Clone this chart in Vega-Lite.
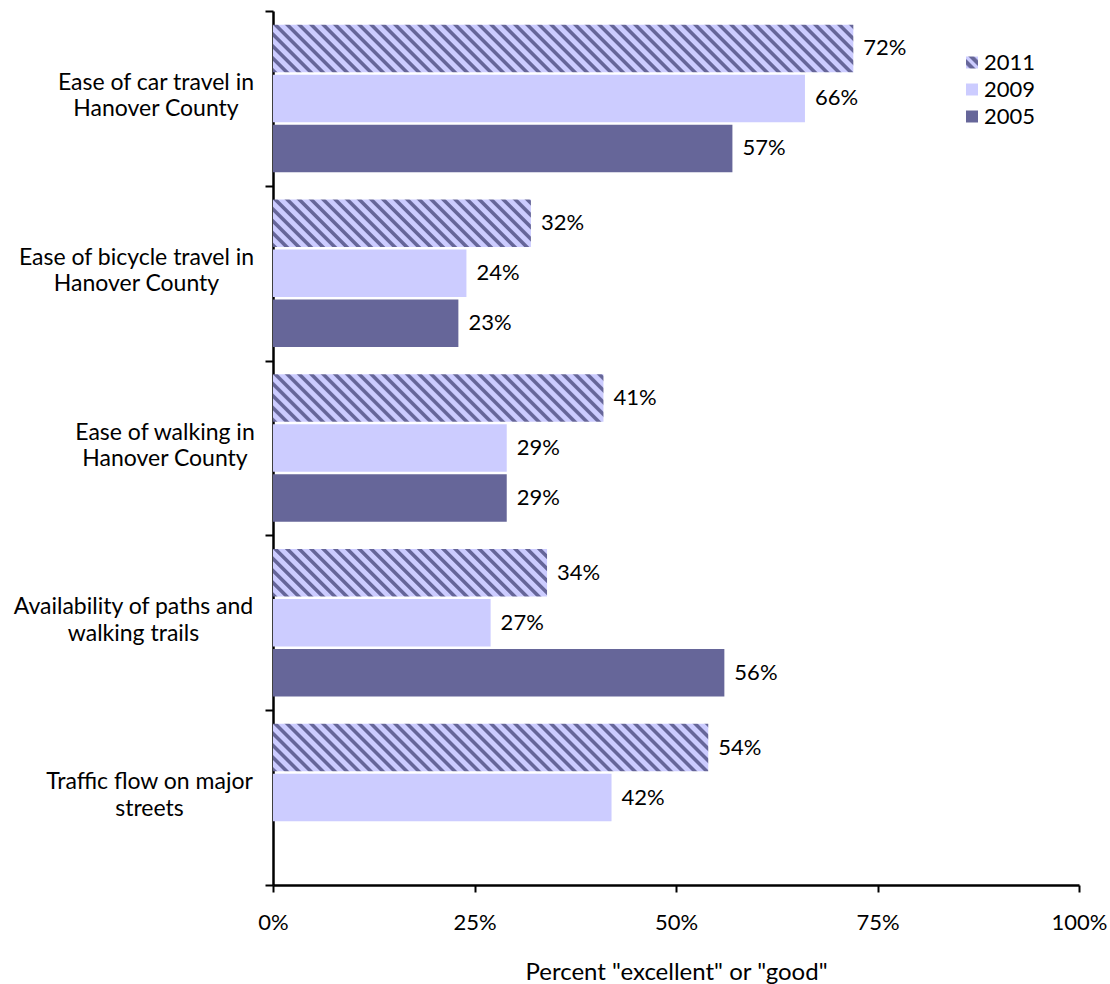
{
  "$schema": "https://vega.github.io/schema/vega-lite/v6.json",
  "autosize": {"type": "none"},
  "padding": {"left": 273, "top": 11, "right": 31, "bottom": 99},
  "width": 806,
  "height": 874,
  "background": "white",
  "config": {
    "view": {"stroke": null},
    "font": "Lato",
    "axis": {
      "grid": false,
      "domainColor": "black",
      "tickColor": "black",
      "labelColor": "black",
      "titleColor": "black",
      "labelFont": "Lato",
      "titleFont": "Lato"
    }
  },
  "params": [
    {
      "name": "hatchStops",
      "value": [
        {"offset":0,"color":"#669"},{"offset":0.0054,"color":"#669"},{"offset":0.0075,"color":"#ccf"},{"offset":0.0157,"color":"#ccf"},
        {"offset":0.0179,"color":"#669"},{"offset":0.0232,"color":"#669"},{"offset":0.0254,"color":"#ccf"},{"offset":0.0336,"color":"#ccf"},
        {"offset":0.0357,"color":"#669"},{"offset":0.0411,"color":"#669"},{"offset":0.0432,"color":"#ccf"},{"offset":0.0514,"color":"#ccf"},
        {"offset":0.0536,"color":"#669"},{"offset":0.0589,"color":"#669"},{"offset":0.0611,"color":"#ccf"},{"offset":0.0693,"color":"#ccf"},
        {"offset":0.0714,"color":"#669"},{"offset":0.0768,"color":"#669"},{"offset":0.0789,"color":"#ccf"},{"offset":0.0871,"color":"#ccf"},
        {"offset":0.0893,"color":"#669"},{"offset":0.0946,"color":"#669"},{"offset":0.0968,"color":"#ccf"},{"offset":0.1050,"color":"#ccf"},
        {"offset":0.1071,"color":"#669"},{"offset":0.1125,"color":"#669"},{"offset":0.1146,"color":"#ccf"},{"offset":0.1229,"color":"#ccf"},
        {"offset":0.1250,"color":"#669"},{"offset":0.1304,"color":"#669"},{"offset":0.1325,"color":"#ccf"},{"offset":0.1407,"color":"#ccf"},
        {"offset":0.1429,"color":"#669"},{"offset":0.1482,"color":"#669"},{"offset":0.1504,"color":"#ccf"},{"offset":0.1586,"color":"#ccf"},
        {"offset":0.1607,"color":"#669"},{"offset":0.1661,"color":"#669"},{"offset":0.1682,"color":"#ccf"},{"offset":0.1764,"color":"#ccf"},
        {"offset":0.1786,"color":"#669"},{"offset":0.1839,"color":"#669"},{"offset":0.1861,"color":"#ccf"},{"offset":0.1943,"color":"#ccf"},
        {"offset":0.1964,"color":"#669"},{"offset":0.2018,"color":"#669"},{"offset":0.2039,"color":"#ccf"},{"offset":0.2121,"color":"#ccf"},
        {"offset":0.2143,"color":"#669"},{"offset":0.2196,"color":"#669"},{"offset":0.2218,"color":"#ccf"},{"offset":0.2300,"color":"#ccf"},
        {"offset":0.2321,"color":"#669"},{"offset":0.2375,"color":"#669"},{"offset":0.2396,"color":"#ccf"},{"offset":0.2479,"color":"#ccf"},
        {"offset":0.2500,"color":"#669"},{"offset":0.2554,"color":"#669"},{"offset":0.2575,"color":"#ccf"},{"offset":0.2657,"color":"#ccf"},
        {"offset":0.2679,"color":"#669"},{"offset":0.2732,"color":"#669"},{"offset":0.2754,"color":"#ccf"},{"offset":0.2836,"color":"#ccf"},
        {"offset":0.2857,"color":"#669"},{"offset":0.2911,"color":"#669"},{"offset":0.2932,"color":"#ccf"},{"offset":0.3014,"color":"#ccf"},
        {"offset":0.3036,"color":"#669"},{"offset":0.3089,"color":"#669"},{"offset":0.3111,"color":"#ccf"},{"offset":0.3193,"color":"#ccf"},
        {"offset":0.3214,"color":"#669"},{"offset":0.3268,"color":"#669"},{"offset":0.3289,"color":"#ccf"},{"offset":0.3371,"color":"#ccf"},
        {"offset":0.3393,"color":"#669"},{"offset":0.3446,"color":"#669"},{"offset":0.3468,"color":"#ccf"},{"offset":0.3550,"color":"#ccf"},
        {"offset":0.3571,"color":"#669"},{"offset":0.3625,"color":"#669"},{"offset":0.3646,"color":"#ccf"},{"offset":0.3729,"color":"#ccf"},
        {"offset":0.3750,"color":"#669"},{"offset":0.3804,"color":"#669"},{"offset":0.3825,"color":"#ccf"},{"offset":0.3907,"color":"#ccf"},
        {"offset":0.3929,"color":"#669"},{"offset":0.3982,"color":"#669"},{"offset":0.4004,"color":"#ccf"},{"offset":0.4086,"color":"#ccf"},
        {"offset":0.4107,"color":"#669"},{"offset":0.4161,"color":"#669"},{"offset":0.4182,"color":"#ccf"},{"offset":0.4264,"color":"#ccf"},
        {"offset":0.4286,"color":"#669"},{"offset":0.4339,"color":"#669"},{"offset":0.4361,"color":"#ccf"},{"offset":0.4443,"color":"#ccf"},
        {"offset":0.4464,"color":"#669"},{"offset":0.4518,"color":"#669"},{"offset":0.4539,"color":"#ccf"},{"offset":0.4621,"color":"#ccf"},
        {"offset":0.4643,"color":"#669"},{"offset":0.4696,"color":"#669"},{"offset":0.4718,"color":"#ccf"},{"offset":0.4800,"color":"#ccf"},
        {"offset":0.4821,"color":"#669"},{"offset":0.4875,"color":"#669"},{"offset":0.4896,"color":"#ccf"},{"offset":0.4979,"color":"#ccf"},
        {"offset":0.5000,"color":"#669"},{"offset":0.5054,"color":"#669"},{"offset":0.5075,"color":"#ccf"},{"offset":0.5157,"color":"#ccf"},
        {"offset":0.5179,"color":"#669"},{"offset":0.5232,"color":"#669"},{"offset":0.5254,"color":"#ccf"},{"offset":0.5336,"color":"#ccf"},
        {"offset":0.5357,"color":"#669"},{"offset":0.5411,"color":"#669"},{"offset":0.5432,"color":"#ccf"},{"offset":0.5514,"color":"#ccf"},
        {"offset":0.5536,"color":"#669"},{"offset":0.5589,"color":"#669"},{"offset":0.5611,"color":"#ccf"},{"offset":0.5693,"color":"#ccf"},
        {"offset":0.5714,"color":"#669"},{"offset":0.5768,"color":"#669"},{"offset":0.5789,"color":"#ccf"},{"offset":0.5871,"color":"#ccf"},
        {"offset":0.5893,"color":"#669"},{"offset":0.5946,"color":"#669"},{"offset":0.5968,"color":"#ccf"},{"offset":0.6050,"color":"#ccf"},
        {"offset":0.6071,"color":"#669"},{"offset":0.6125,"color":"#669"},{"offset":0.6146,"color":"#ccf"},{"offset":0.6229,"color":"#ccf"},
        {"offset":0.6250,"color":"#669"},{"offset":0.6304,"color":"#669"},{"offset":0.6325,"color":"#ccf"},{"offset":0.6407,"color":"#ccf"},
        {"offset":0.6429,"color":"#669"},{"offset":0.6482,"color":"#669"},{"offset":0.6504,"color":"#ccf"},{"offset":0.6586,"color":"#ccf"},
        {"offset":0.6607,"color":"#669"},{"offset":0.6661,"color":"#669"},{"offset":0.6682,"color":"#ccf"},{"offset":0.6764,"color":"#ccf"},
        {"offset":0.6786,"color":"#669"},{"offset":0.6839,"color":"#669"},{"offset":0.6861,"color":"#ccf"},{"offset":0.6943,"color":"#ccf"},
        {"offset":0.6964,"color":"#669"},{"offset":0.7018,"color":"#669"},{"offset":0.7039,"color":"#ccf"},{"offset":0.7121,"color":"#ccf"},
        {"offset":0.7143,"color":"#669"},{"offset":0.7196,"color":"#669"},{"offset":0.7218,"color":"#ccf"},{"offset":0.7300,"color":"#ccf"},
        {"offset":0.7321,"color":"#669"},{"offset":0.7375,"color":"#669"},{"offset":0.7396,"color":"#ccf"},{"offset":0.7479,"color":"#ccf"},
        {"offset":0.7500,"color":"#669"},{"offset":0.7554,"color":"#669"},{"offset":0.7575,"color":"#ccf"},{"offset":0.7657,"color":"#ccf"},
        {"offset":0.7679,"color":"#669"},{"offset":0.7732,"color":"#669"},{"offset":0.7754,"color":"#ccf"},{"offset":0.7836,"color":"#ccf"},
        {"offset":0.7857,"color":"#669"},{"offset":0.7911,"color":"#669"},{"offset":0.7932,"color":"#ccf"},{"offset":0.8014,"color":"#ccf"},
        {"offset":0.8036,"color":"#669"},{"offset":0.8089,"color":"#669"},{"offset":0.8111,"color":"#ccf"},{"offset":0.8193,"color":"#ccf"},
        {"offset":0.8214,"color":"#669"},{"offset":0.8268,"color":"#669"},{"offset":0.8289,"color":"#ccf"},{"offset":0.8371,"color":"#ccf"},
        {"offset":0.8393,"color":"#669"},{"offset":0.8446,"color":"#669"},{"offset":0.8468,"color":"#ccf"},{"offset":0.8550,"color":"#ccf"},
        {"offset":0.8571,"color":"#669"},{"offset":0.8625,"color":"#669"},{"offset":0.8646,"color":"#ccf"},{"offset":0.8729,"color":"#ccf"},
        {"offset":0.8750,"color":"#669"},{"offset":0.8804,"color":"#669"},{"offset":0.8825,"color":"#ccf"},{"offset":0.8907,"color":"#ccf"},
        {"offset":0.8929,"color":"#669"},{"offset":0.8982,"color":"#669"},{"offset":0.9004,"color":"#ccf"},{"offset":0.9086,"color":"#ccf"},
        {"offset":0.9107,"color":"#669"},{"offset":0.9161,"color":"#669"},{"offset":0.9182,"color":"#ccf"},{"offset":0.9264,"color":"#ccf"},
        {"offset":0.9286,"color":"#669"},{"offset":0.9339,"color":"#669"},{"offset":0.9361,"color":"#ccf"},{"offset":0.9443,"color":"#ccf"},
        {"offset":0.9464,"color":"#669"},{"offset":0.9518,"color":"#669"},{"offset":0.9539,"color":"#ccf"},{"offset":0.9621,"color":"#ccf"},
        {"offset":0.9643,"color":"#669"},{"offset":0.9696,"color":"#669"},{"offset":0.9718,"color":"#ccf"},{"offset":0.9800,"color":"#ccf"},
        {"offset":0.9821,"color":"#669"},{"offset":0.9875,"color":"#669"},{"offset":0.9896,"color":"#ccf"},{"offset":0.9979,"color":"#ccf"}
      ]
    },
    {
      "name": "hatchSwatch",
      "value": {
        "gradient": "linear", "x1": 0, "y1": 1, "x2": 1, "y2": 0,
        "stops": [
          {"offset":0,"color":"#ccf"},{"offset":0.12,"color":"#ccf"},{"offset":0.2,"color":"#669"},{"offset":0.36,"color":"#669"},
          {"offset":0.44,"color":"#ccf"},{"offset":0.56,"color":"#ccf"},{"offset":0.64,"color":"#669"},{"offset":0.8,"color":"#669"},
          {"offset":0.88,"color":"#ccf"},{"offset":1,"color":"#ccf"}
        ]
      }
    }
  ],
  "data": {
    "values": [
      {"item": "Ease of car travel in Hanover County", "year": "2011", "pct": 0.72},
      {"item": "Ease of car travel in Hanover County", "year": "2009", "pct": 0.66},
      {"item": "Ease of car travel in Hanover County", "year": "2005", "pct": 0.57},
      {"item": "Ease of bicycle travel in Hanover County", "year": "2011", "pct": 0.32},
      {"item": "Ease of bicycle travel in Hanover County", "year": "2009", "pct": 0.24},
      {"item": "Ease of bicycle travel in Hanover County", "year": "2005", "pct": 0.23},
      {"item": "Ease of walking in Hanover County", "year": "2011", "pct": 0.41},
      {"item": "Ease of walking in Hanover County", "year": "2009", "pct": 0.29},
      {"item": "Ease of walking in Hanover County", "year": "2005", "pct": 0.29},
      {"item": "Availability of paths and walking trails", "year": "2011", "pct": 0.34},
      {"item": "Availability of paths and walking trails", "year": "2009", "pct": 0.27},
      {"item": "Availability of paths and walking trails", "year": "2005", "pct": 0.56},
      {"item": "Traffic flow on major streets", "year": "2011", "pct": 0.54},
      {"item": "Traffic flow on major streets", "year": "2009", "pct": 0.42}
    ]
  },
  "encoding": {
    "y": {
      "field": "item",
      "type": "nominal",
      "scale": {
        "domain": [
          "Ease of car travel in Hanover County",
          "Ease of bicycle travel in Hanover County",
          "Ease of walking in Hanover County",
          "Availability of paths and walking trails",
          "Traffic flow on major streets"
        ],
        "paddingInner": 0,
        "paddingOuter": 0
      },
      "axis": {
        "title": null,
        "tickBand": "extent",
        "tickSize": 8,
        "tickWidth": 2,
        "domainWidth": 2.5,
        "labelFontSize": 23,
        "labelLineHeight": 26.5,
        "labelAlign": "center",
        "labelBaseline": "middle",
        "labelPadding": {"expr": "datum.value === 'Ease of bicycle travel in Hanover County' ? 129 : datum.value === 'Ease of walking in Hanover County' ? 100.5 : datum.value === 'Availability of paths and walking trails' ? 132 : datum.value === 'Traffic flow on major streets' ? 116 : 109.5"},
        "labelOffset": -16,
        "labelLimit": 0,
        "labelExpr": "split(replace(datum.label, regexp(' (Hanover County|walking trails|streets)$'), '|$1'), '|')"
      }
    },
    "yOffset": {
      "field": "year",
      "type": "nominal",
      "scale": {"domain": ["2011", "2009", "2005"], "paddingInner": 0.05, "paddingOuter": 0.273}
    },
    "x": {
      "field": "pct",
      "type": "quantitative",
      "scale": {"domain": [0, 1], "nice": false},
      "axis": {
        "title": "Percent \"excellent\" or \"good\"",
        "titleFontSize": 24,
        "titleFontWeight": "normal",
        "titlePadding": 27,
        "values": [0, 0.25, 0.5, 0.75, 1],
        "format": ".0%",
        "tickSize": 7,
        "tickWidth": 2,
        "domainWidth": 2.5,
        "labelFontSize": 22,
        "labelPadding": 20,
        "labelFlush": false,
        "labelOverlap": false
      }
    }
  },
  "layer": [
    {
      "mark": {"type": "bar"},
      "encoding": {
        "fill": {
          "field": "year",
          "type": "nominal",
          "scale": {"domain": ["2011", "2009", "2005"], "range": [{"expr": "hatchSwatch"}, "#ccccff", "#666699"]},
          "condition": {
            "test": "datum.year === '2011'",
            "value": {"expr": "{gradient: 'linear', x1: 0, y1: 1, x2: 672 * datum.pct * 806 / (pow(datum.pct * 806, 2) + 2256), y2: 1 - 31920 / (pow(datum.pct * 806, 2) + 2256), stops: hatchStops}"}
          },
          "legend": {
            "title": null,
            "orient": "none",
            "legendX": 688,
            "legendY": 40.5,
            "padding": 0,
            "symbolType": "square",
            "symbolSize": 144,
            "symbolStrokeWidth": 0,
            "symbolOpacity": 1,
            "labelFontSize": 22,
            "labelFont": "Lato",
            "labelColor": "black",
            "labelOffset": 1,
            "rowPadding": 5
          }
        }
      }
    },
    {
      "mark": {"type": "text", "align": "left", "baseline": "middle", "dx": 10, "fontSize": 22, "font": "Lato", "color": "black"},
      "encoding": {
        "text": {"field": "pct", "type": "quantitative", "format": ".0%"}
      }
    }
  ]
}
